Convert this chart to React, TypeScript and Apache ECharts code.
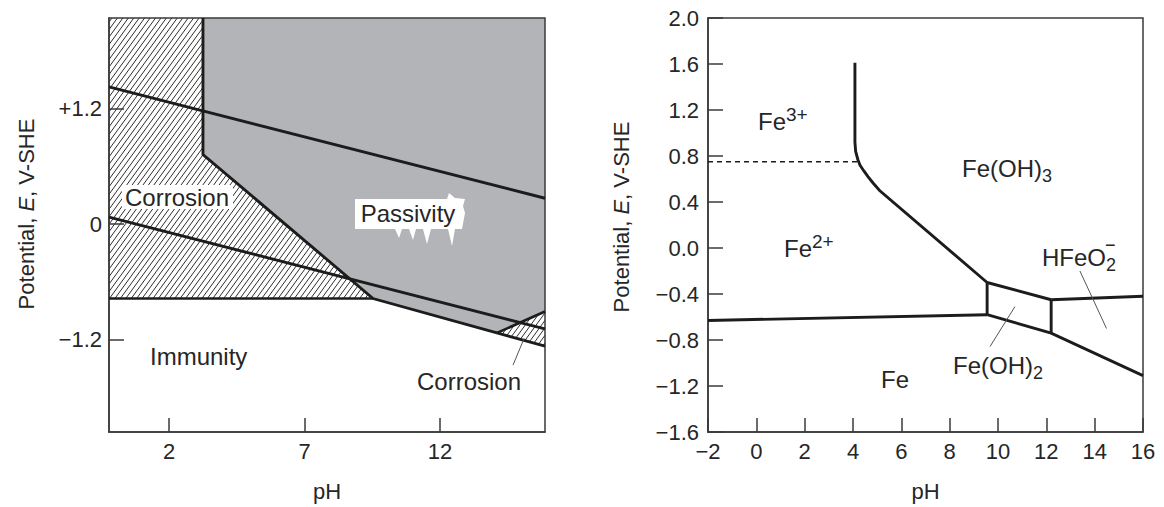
import React, { useEffect, useRef } from "react";
import * as echarts from "echarts";

const FONT = '"Liberation Sans", Arial, Helvetica, sans-serif';
const INK = "#262626";
const FRAME = "#3a3a3a";
const LINE = "#1c1c1c";
const GRAY = "#b3b4b8";

// ---------- Left panel: schematic corrosion / passivity / immunity diagram ----------
const leftXTicks = [2, 7, 12];
const leftYTicks = [-1.2, 0, 1.2];
const leftXMin = -0.22;
const leftXMax = 15.88;
const leftYMin = -2.16;
const leftYMax = 2.14;

const passivityRegion = [[3.25, 2.14], [15.88, 2.14], [15.88, -0.908], [14.11, -1.131], [9.53, -0.774], [3.25, 0.722]];
const corrosionRegionAcid = [[-0.22, 2.14], [3.25, 2.14], [3.25, 0.722], [9.53, -0.774], [-0.22, -0.774]];
const corrosionRegionAlkaline = [[14.11, -1.131], [15.88, -0.908], [15.88, -1.269]];

const oxygenLine = [[-0.22, 1.424], [15.88, 0.268]];
const hydrogenLine = [[-0.22, 0.072], [15.88, -1.089]];
const passivityBoundary = [[3.25, 2.14], [3.25, 0.722], [9.53, -0.774], [15.88, -1.269]];
const immunityBoundary = [[-0.22, -0.774], [9.53, -0.774]];
const alkalineBoundary = [[14.11, -1.131], [15.88, -0.908]];
const corrosionLeader = [[14.7, -1.465], [15.11, -1.187]];

// ---------- Right panel: Pourbaix diagram of iron ----------
const rightXMin = -2;
const rightXMax = 16;
const rightXStep = 2;
const rightYMin = -1.6;
const rightYMax = 2.0;
const rightYStep = 0.4;

const feFe2Line = [[-2, -0.63], [9.55, -0.58]];
const fe2Fe3Line = [[4.08, 1.61], [4.08, 0.92], [4.11, 0.84], [4.2, 0.77], [4.29, 0.72], [4.45, 0.67], [4.62, 0.62], [4.83, 0.565], [5.1, 0.5], [9.55, -0.3]];
const fe3DashLine = [[-2, 0.75], [4.25, 0.75]];
const feOH2Left = [[9.55, -0.58], [9.55, -0.3]];
const feOH2Top = [[9.55, -0.3], [12.2, -0.45]];
const feOH2Right = [[12.2, -0.45], [12.2, -0.74]];
const feLowerLine = [[9.55, -0.58], [12.2, -0.74], [16, -1.11]];
const hfeo2Top = [[12.2, -0.45], [16, -0.42]];
const feOH2Leader = [[9.67, -0.857], [10.7, -0.51]];
const hfeo2Leader = [[13.39, -0.2], [14.49, -0.7]];

type Pt = number[];

function hatchLines(pts: Pt[], angleDeg: number, gap: number) {
  const th = (angleDeg * Math.PI) / 180;
  const d = [Math.cos(th), -Math.sin(th)];
  const n = [Math.sin(th), Math.cos(th)];
  const proj = pts.map((p) => p[0] * n[0] + p[1] * n[1]);
  const lo = Math.min(...proj);
  const hi = Math.max(...proj);
  const out: Pt[][] = [];
  for (let c = Math.ceil(lo / gap) * gap; c <= hi; c += gap) {
    const hits: Pt[] = [];
    for (let i = 0; i < pts.length; i++) {
      const j = (i + 1) % pts.length;
      const a = pts[i];
      const b = pts[j];
      const fa = proj[i] - c;
      const fb = proj[j] - c;
      if ((fa <= 0 && fb > 0) || (fa > 0 && fb <= 0)) {
        const t = fa / (fa - fb);
        hits.push([a[0] + t * (b[0] - a[0]), a[1] + t * (b[1] - a[1])]);
      }
    }
    if (hits.length >= 2) {
      hits.sort((p, q) => p[0] * d[0] + p[1] * d[1] - (q[0] * d[0] + q[1] * d[1]));
      out.push([hits[0], hits[hits.length - 1]]);
    }
  }
  return out;
}

function regionSeries(poly: Pt[], idx: number, fill: string) {
  return {
    type: "custom",
    xAxisIndex: idx,
    yAxisIndex: idx,
    silent: true,
    z: -1,
    data: [[poly[0][0], poly[0][1]]],
    encode: { x: 0, y: 1 },
    renderItem: (_p: any, api: any) => ({
      type: "polygon",
      shape: { points: poly.map((p) => api.coord(p)) },
      style: { fill, stroke: "none" },
    }),
  };
}

function hatchSeries(poly: Pt[], idx: number) {
  return {
    type: "custom",
    xAxisIndex: idx,
    yAxisIndex: idx,
    silent: true,
    z: -1,
    data: [[poly[0][0], poly[0][1]]],
    encode: { x: 0, y: 1 },
    renderItem: (_p: any, api: any) => {
      const pts = poly.map((p) => api.coord(p));
      const segs = hatchLines(pts, 54, 4.4);
      return {
        type: "group",
        children: segs.map(([a, b]) => ({
          type: "line",
          shape: { x1: a[0], y1: a[1], x2: b[0], y2: b[1] },
          style: { stroke: "#2e2e2e", lineWidth: 1 },
        })),
      };
    },
  };
}

function lineSeries(pts: Pt[], idx: number, width: number, color: string, dash?: number[]) {
  return {
    type: "line",
    xAxisIndex: idx,
    yAxisIndex: idx,
    data: pts,
    symbol: "none",
    showSymbol: false,
    silent: true,
    z: 5,
    lineStyle: { width, color, type: dash || "solid", cap: "butt", join: "miter" },
  };
}

const richStyles = {
  sub: { fontSize: 18, fontFamily: FONT, fill: INK, lineHeight: 17, verticalAlign: "bottom" },
  sup: { fontSize: 19, fontFamily: FONT, fill: INK, lineHeight: 21, verticalAlign: "top" },
};

const txt = (text: string, x: number, y: number, size: number, align = "left") => ({
  type: "text",
  x,
  y,
  z: 100,
  style: {
    text,
    fontSize: size,
    fontFamily: FONT,
    fill: INK,
    lineHeight: 33,
    rich: richStyles,
    align,
    verticalAlign: "middle",
    textAlign: align,
    textVerticalAlign: "middle",
  },
});

const axisLineStyle = { show: true, onZero: false, lineStyle: { color: FRAME, width: 1.5 } };
const tickStyle = { color: FRAME, width: 1.5 };
const labelBase = { color: INK, fontSize: 22, fontFamily: FONT };
const nameStyle = {
  color: INK,
  fontSize: 22,
  fontFamily: FONT,
  rich: { i: { fontStyle: "italic", color: INK, fontSize: 22, fontFamily: FONT } },
};

const minus = (s: string) => s.replace("-", "\u2212");

export default function App() {
  const ref = useRef<HTMLDivElement>(null);
  useEffect(() => {
    const chart = echarts.init(ref.current!, null, { renderer: "svg" });
    const option: any = {
      animation: false,
      backgroundColor: "#fff",
      grid: [
        { left: 109, top: 18, width: 436, height: 416, show: true, borderColor: FRAME, borderWidth: 1.5 },
        { left: 708, top: 18, width: 435, height: 415, show: true, borderColor: FRAME, borderWidth: 1.5 },
      ],
      xAxis: [
        {
          gridIndex: 0,
          type: "value",
          min: leftXMin,
          max: leftXMax,
          axisLine: axisLineStyle,
          axisTick: { show: true, inside: true, length: 14, customValues: leftXTicks, lineStyle: tickStyle },
          axisLabel: { ...labelBase, margin: 8, customValues: leftXTicks, formatter: (v: number) => String(v) },
          splitLine: { show: false },
          name: "pH",
          nameLocation: "middle",
          nameGap: 48,
          nameTextStyle: nameStyle,
        },
        {
          gridIndex: 1,
          type: "value",
          min: rightXMin,
          max: rightXMax,
          interval: rightXStep,
          axisLine: axisLineStyle,
          axisTick: { show: true, inside: true, length: 14, lineStyle: tickStyle },
          axisLabel: { ...labelBase, margin: 8, formatter: (v: number) => minus(String(Math.round(v))) },
          splitLine: { show: false },
          name: "pH",
          nameLocation: "middle",
          nameGap: 48,
          nameTextStyle: nameStyle,
        },
      ],
      yAxis: [
        {
          gridIndex: 0,
          type: "value",
          min: leftYMin,
          max: leftYMax,
          axisLine: axisLineStyle,
          axisTick: { show: true, inside: true, length: 15, customValues: leftYTicks, lineStyle: tickStyle },
          axisLabel: {
            ...labelBase,
            margin: 7,
            customValues: leftYTicks,
            formatter: (v: number) => (v > 0.001 ? "+" + v.toFixed(1) : v < -0.001 ? "\u2212" + Math.abs(v).toFixed(1) : "0"),
          },
          splitLine: { show: false },
          name: "Potential, {i|E}, V-SHE",
          nameLocation: "middle",
          nameGap: 72,
          nameRotate: 90,
          nameTextStyle: { ...nameStyle, padding: [0, 0, 0, 22] },
        },
        {
          gridIndex: 1,
          type: "value",
          min: rightYMin,
          max: rightYMax,
          interval: rightYStep,
          axisLine: axisLineStyle,
          axisTick: { show: true, inside: true, length: 15, lineStyle: tickStyle },
          axisLabel: {
            ...labelBase,
            margin: 9,
            formatter: (v: number) => (Math.abs(v) < 1e-9 ? "0.0" : minus(v.toFixed(1))),
          },
          splitLine: { show: false },
          name: "Potential, {i|E}, V-SHE",
          nameLocation: "middle",
          nameGap: 76,
          nameRotate: 90,
          nameTextStyle: { ...nameStyle, padding: [0, 0, 0, 16] },
        },
      ],
      series: [
        regionSeries(passivityRegion, 0, GRAY),
        hatchSeries(corrosionRegionAcid, 0),
        hatchSeries(corrosionRegionAlkaline, 0),
        lineSeries(oxygenLine, 0, 2.9, LINE),
        lineSeries(hydrogenLine, 0, 2.9, LINE),
        lineSeries(passivityBoundary, 0, 2.9, LINE),
        lineSeries(immunityBoundary, 0, 2.6, LINE),
        lineSeries(alkalineBoundary, 0, 2.6, LINE),
        lineSeries(corrosionLeader, 0, 1, "#555"),

        lineSeries(feFe2Line, 1, 2.9, LINE),
        lineSeries(fe2Fe3Line, 1, 2.9, LINE),
        lineSeries(fe3DashLine, 1, 1.3, LINE, [5, 4]),
        lineSeries(feOH2Left, 1, 2.9, LINE),
        lineSeries(feOH2Top, 1, 2.9, LINE),
        lineSeries(feOH2Right, 1, 2.9, LINE),
        lineSeries(feLowerLine, 1, 2.9, LINE),
        lineSeries(hfeo2Top, 1, 2.9, LINE),
        lineSeries(feOH2Leader, 1, 1, "#555"),
        lineSeries(hfeo2Leader, 1, 1, "#555"),
      ],
      graphic: [
        // left panel labels
        { type: "rect", z: 99, shape: { x: 122, y: 185, width: 111, height: 24 }, style: { fill: "#fff" } },
        txt("Corrosion", 177, 197, 24, "center"),
        {
          type: "polygon",
          z: 99,
          shape: {
            points: [
              [355, 199], [447, 199], [449, 193], [455, 198], [465, 199], [463, 206], [465, 213], [462, 229],
              [455, 229], [452, 246], [448, 229], [431, 229], [427, 244], [423, 229], [416, 229], [413, 240],
              [409, 229], [402, 229], [399, 238], [395, 229], [355, 229],
            ],
          },
          style: { fill: "#fff" },
        },
        txt("Passivity", 408, 213, 24, "center"),
        txt("Immunity", 150, 356, 24),
        txt("Corrosion", 417, 381, 24),
        // right panel labels
        txt("Fe{sup|3+}", 758, 121, 24),
        txt("Fe{sup|2+}", 784, 248, 24),
        txt("Fe(OH){sub|3}", 962, 168, 24),
        txt("HFeO{sub|2}", 1042, 257, 24),
        txt("\u2212", 1105, 245, 18),
        txt("Fe(OH){sub|2}", 953, 365, 24),
        txt("Fe", 881, 379, 24),
      ],
    };
    chart.setOption(option);
    return () => chart.dispose();
  }, []);
  return (
    <div
      ref={ref}
      style={{ position: "fixed", left: 0, top: 0, width: 1164, height: 507, background: "#fff" }}
    />
  );
}
